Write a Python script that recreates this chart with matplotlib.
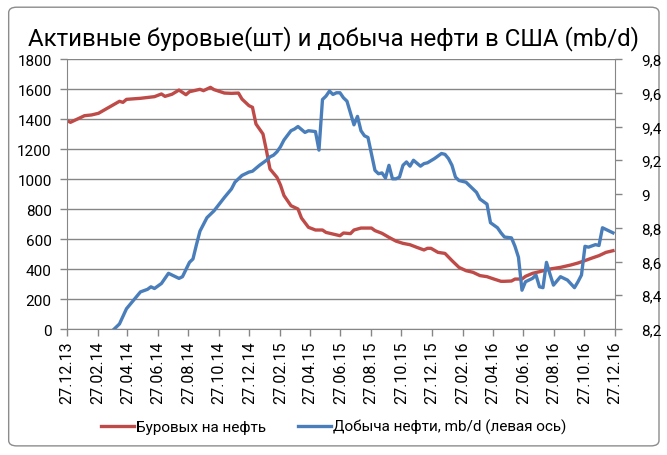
import datetime as dt
import matplotlib
matplotlib.use("Agg")
import matplotlib.pyplot as plt
import matplotlib.dates as mdates
from matplotlib.ticker import MultipleLocator, FuncFormatter
from matplotlib.patches import FancyBboxPatch

plt.rcParams['font.family'] = ['Roboto', 'DejaVu Sans']

# неделя от 27.12.13 -> число буровых на нефть
rig_week = [0, 1, 5, 7, 9, 12, 15, 16, 17, 21, 25, 27, 28, 30, 32, 34, 35, 38, 39, 41,
            42, 45, 47, 49, 50, 52, 53, 54, 56, 57, 58, 60, 61, 62, 64, 66, 67, 69, 71, 73,
            74, 76, 78, 79, 81, 82, 84, 87, 88, 90, 92, 94, 96, 98, 100, 102, 103, 104, 106, 108,
            110, 112, 114, 116, 118, 120, 122, 124, 125, 127, 128, 130, 131, 133, 135, 138, 141, 144, 146, 148,
            150, 152, 154, 156]
rig_count = [1389, 1378, 1422, 1427, 1438, 1478, 1518, 1511, 1531, 1538, 1549, 1567, 1551, 1565, 1593, 1562, 1582, 1598, 1589, 1611,
             1596, 1573, 1571, 1573, 1533, 1489, 1478, 1367, 1300, 1189, 1067, 1011, 960, 890, 822, 800, 740, 678, 660, 660,
             644, 633, 622, 640, 636, 660, 673, 673, 656, 638, 611, 586, 571, 562, 544, 527, 538, 538, 511, 504,
             456, 411, 389, 378, 356, 349, 333, 318, 318, 320, 333, 333, 351, 371, 382, 400, 411, 427, 440, 456,
             473, 489, 511, 522]

# неделя от 27.12.13 -> добыча нефти, mb/d
oil_week = [13, 15, 17, 19, 21, 23, 24, 25, 27, 29, 31, 32, 33, 35, 36, 37, 38, 40, 42, 45,
            47, 48, 50, 52, 53, 55, 57, 58, 59, 60, 61, 62, 64, 65, 66, 68, 69, 71, 72, 73,
            74, 75, 76, 77, 78, 79, 80, 82, 83, 84, 85, 86, 88, 89, 90, 91, 92, 93, 94, 95,
            96, 97, 98, 99, 101, 102, 103, 105, 107, 108, 109, 110, 111, 112, 114, 116, 117, 118, 120, 121,
            123, 124, 125, 127, 128, 129, 130, 131, 133, 134, 135, 136, 137, 138, 139, 141, 143, 145, 146, 147,
            148, 149, 151, 152, 153, 155, 156]
oil_prod = [8.19, 8.23, 8.32, 8.37, 8.42, 8.435, 8.45, 8.44, 8.47, 8.53, 8.51, 8.50, 8.51, 8.595, 8.615, 8.70, 8.78, 8.86, 8.90, 8.98,
            9.03, 9.07, 9.11, 9.13, 9.135, 9.17, 9.20, 9.22, 9.23, 9.25, 9.28, 9.32, 9.375, 9.385, 9.40, 9.365, 9.375, 9.37, 9.26, 9.56,
            9.58, 9.61, 9.59, 9.60, 9.60, 9.57, 9.55, 9.41, 9.46, 9.375, 9.345, 9.335, 9.14, 9.12, 9.125, 9.095, 9.17, 9.09, 9.09, 9.10,
            9.17, 9.19, 9.165, 9.20, 9.165, 9.18, 9.185, 9.21, 9.24, 9.235, 9.21, 9.17, 9.10, 9.08, 9.07, 9.03, 9.01, 8.97, 8.94, 8.83,
            8.80, 8.77, 8.745, 8.74, 8.69, 8.625, 8.43, 8.48, 8.50, 8.52, 8.45, 8.445, 8.595, 8.525, 8.46, 8.51, 8.49, 8.445, 8.48, 8.52,
            8.69, 8.685, 8.70, 8.695, 8.80, 8.78, 8.77]

start = dt.date(2013, 12, 27)
rig_dates = [start + dt.timedelta(weeks=w) for w in rig_week]
oil_dates = [start + dt.timedelta(weeks=w) for w in oil_week]

tick_dates = []
y, m = 2013, 12
while (y, m) <= (2016, 12):
    tick_dates.append(dt.date(y, m, 27))
    m += 2
    if m > 12:
        m -= 12
        y += 1

red = '#BE4B48'
blue = '#4A7EBB'
grey = '#868686'

fig = plt.figure(figsize=(6.67, 4.56), dpi=100)
frame = FancyBboxPatch((0.013, 0.02), 0.975, 0.962, boxstyle="round,pad=0,rounding_size=0.012",
                       transform=fig.transFigure, facecolor='white', edgecolor='#8c8c8c', lw=1.0, zorder=-10)
fig.patches.append(frame)

ax = fig.add_axes([0.1004, 0.2763, 0.8216, 0.5921])
ax2 = ax.twinx()
ax.set_facecolor('none')
ax2.set_facecolor('none')

ax.plot(rig_dates, rig_count, color=red, lw=2.4, label='Буровых на нефть')
ax2.plot(oil_dates, oil_prod, color=blue, lw=2.4, label='Добыча нефти, mb/d (левая ось)')

ax.set_xlim(tick_dates[0], tick_dates[-1])
ax.set_ylim(0, 1800)
ax.yaxis.set_major_locator(MultipleLocator(200))
ax2.set_ylim(8.2, 9.8)
ax2.set_yticks([8.2 + 0.2 * i for i in range(9)])
ax2.yaxis.set_major_formatter(FuncFormatter(lambda v, p: ('%.1f' % v).replace('.0', '').replace('.', ',')))

ax.set_xticks(tick_dates)
ax.xaxis.set_major_formatter(mdates.DateFormatter('%d.%m.%y'))
for lab in ax.get_xticklabels():
    lab.set_rotation(90)

ax.grid(axis='y', color=grey, lw=1.0)
ax.set_axisbelow(True)
for a in (ax, ax2):
    a.spines['top'].set_visible(False)
    for s in ('left', 'right', 'bottom'):
        a.spines[s].set_color(grey)
    a.tick_params(colors=grey, labelcolor='black', length=5, width=1.0)
ax.spines['right'].set_visible(False)
ax2.spines['left'].set_visible(False)
ax2.spines['bottom'].set_visible(False)

ax.tick_params(axis='y', labelsize=11, pad=6)
ax.tick_params(axis='x', labelsize=11.5, pad=3)
ax2.tick_params(axis='y', labelsize=11, pad=14)

fig.text(0.5, 0.915, 'Активные буровые(шт) и добыча нефти в США (mb/d)', ha='center', va='center', fontsize=17.3)

h1, l1 = ax.get_legend_handles_labels()
h2, l2 = ax2.get_legend_handles_labels()
fig.legend(h1 + h2, l1 + l2, loc='center', bbox_to_anchor=(0.5, 0.062), ncol=2, frameon=False,
           fontsize=11, handlelength=2.2, handletextpad=0.1, columnspacing=2.1)

fig.savefig('out.png', dpi=100)
